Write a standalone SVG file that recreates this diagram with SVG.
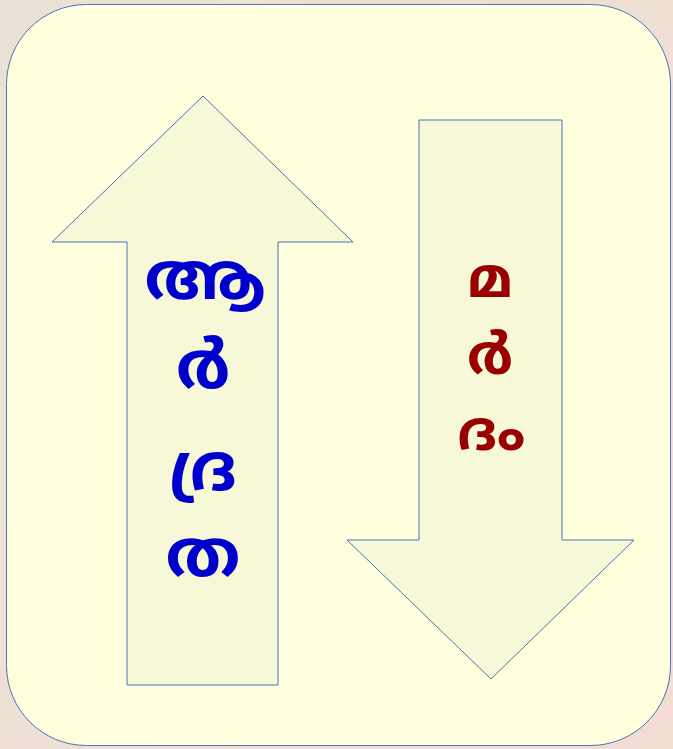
<svg xmlns="http://www.w3.org/2000/svg" width="673" height="749" viewBox="0 0 673 749">
  <defs>
    <linearGradient id="bg" x1="0" y1="0" x2="1" y2="1">
      <stop offset="0" stop-color="#e9e2d4"/>
      <stop offset="1" stop-color="#f4dcd3"/>
    </linearGradient>
    <style>
      .panel { fill: #ffffdd; stroke: #4a72b8; stroke-width: 1; }
      .arrow { fill: #f7f8d8; stroke: #4a72b8; stroke-width: 1; }
      .ml { font-family: "Noto Sans Malayalam", "Noto Sans", "DejaVu Sans", sans-serif; font-weight: bold; text-anchor: middle; dominant-baseline: central; }
      .blue { fill: #0000cc; font-size: 66px; }
      .red { fill: #990000; font-size: 56px; }
    </style>
  </defs>
  <rect width="673" height="749" fill="url(#bg)"/>
  <rect class="panel" x="6.5" y="4.5" width="664" height="741" rx="80" ry="80"/>
  <g id="up-arrow">
    <polygon class="arrow" points="203,96 353,242 278,242 278,685 127,685 127,242 52,242"/>
    <text class="ml blue" x="205" y="283">ആ</text>
    <text class="ml blue" x="203" y="372">ർ</text>
    <text class="ml blue" x="203" y="474">ദ്ര</text>
    <text class="ml blue" x="203" y="560">ത</text>
  </g>
  <g id="down-arrow">
    <polygon class="arrow" points="419,120 562,120 562,540 634,540 491,679 347,540 419,540"/>
    <text class="ml red" x="490" y="283">മ</text>
    <text class="ml red" x="490" y="360">ർ</text>
    <text class="ml red" x="491" y="436">ദം</text>
  </g>
</svg>
